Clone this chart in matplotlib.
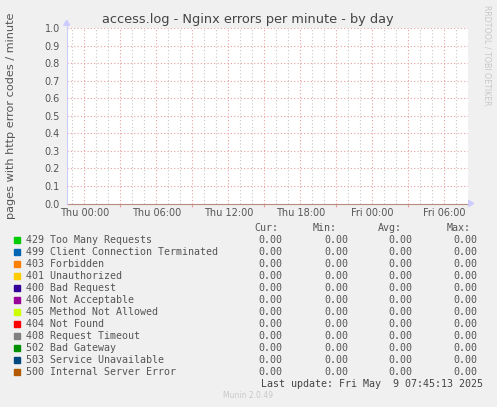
import matplotlib
matplotlib.use("Agg")
import matplotlib.pyplot as plt
from matplotlib.patches import Rectangle, Polygon
import numpy as np

W, H = 497, 407

series_names = ["429 Too Many Requests", "499 Client Connection Terminated",
                "403 Forbidden", "401 Unauthorized", "400 Bad Request",
                "406 Not Acceptable", "405 Method Not Allowed", "404 Not Found",
                "408 Request Timeout", "502 Bad Gateway", "503 Service Unavailable",
                "500 Internal Server Error"]
series_colors = ["#00CC00", "#0066B3", "#FF8000", "#FFCC00", "#330099", "#990099",
                 "#CCFF00", "#FF0000", "#808080", "#008F00", "#00487D", "#B35A00"]
series_values = [0.0] * 12   # every series flat at zero over the day
cur_vals = [0.0] * 12
min_vals = [0.0] * 12
avg_vals = [0.0] * 12
max_vals = [0.0] * 12

x_ticks_h = [0, 6, 12, 18, 24, 30]
x_tick_labels = ["Thu 00:00", "Thu 06:00", "Thu 12:00", "Thu 18:00", "Fri 00:00", "Fri 06:00"]
x_start_h, x_end_h = -1.47, 31.95
y_ticks = [0.0, 0.1, 0.2, 0.3, 0.4, 0.5, 0.6, 0.7, 0.8, 0.9, 1.0]

BG = "#F0F0F0"
fig = plt.figure(figsize=(W / 100, H / 100), dpi=100, facecolor=BG)

def fx(x):
    return x / W

def fy(y):
    return 1 - y / H

L, R, T, B = 66.7, 467.7, 28.3, 203.5
ax = fig.add_axes([fx(L), fy(B), (R - L) / W, (B - T) / H])
ax.set_facecolor("white")
ax.set_xlim(x_start_h, x_end_h)
ax.set_ylim(0, 1.0)
for s in ax.spines.values():
    s.set_visible(False)

# grid
hours = np.arange(-1, 32, 1)
for h in hours:
    major = (h % 3 == 0)
    ax.axvline(h, color="#E8A0A0" if major else "#C8C8C8", lw=0.8,
               ls=(0, (1, 2)), zorder=1)
for yv in y_ticks[1:]:
    ax.axhline(yv, color="#E8A0A0", lw=0.8, ls=(0, (1, 2)), zorder=1)

# series lines (all zero)
for v, c in zip(series_values, series_colors):
    ax.axhline(v, color=c, lw=0.6, alpha=0.6, zorder=3, clip_on=False)
ax.axhline(0, color="#B88A80", lw=0.8, zorder=4, clip_on=False)

ax.set_xticks(x_ticks_h)
ax.set_xticklabels(x_tick_labels)
ax.set_yticks(y_ticks)
ax.set_yticklabels([f"{v:.1f}" for v in y_ticks])
ax.tick_params(axis="both", length=0, labelsize=7, labelcolor="#555555", pad=3)
ax.tick_params(axis="y", pad=5)
ax.set_xticks([h for h in hours if h % 3 == 0], minor=True)
ax.tick_params(axis="x", which="minor", length=2.5, color="#E8A0A0", width=0.8)

# axes arrows and left axis
fig.lines.append(plt.Line2D([fx(L), fx(L)], [fy(B), fy(T - 4)], color="#CCCCFF", lw=0.8,
                            transform=fig.transFigure))
fig.patches.append(Polygon([[fx(L - 3), fy(T - 3)], [fx(L + 3), fy(T - 3)], [fx(L), fy(T - 8)]],
                           closed=True, color="#CCCCFF", transform=fig.transFigure))
fig.patches.append(Polygon([[fx(R + 1), fy(B - 3)], [fx(R + 1), fy(B + 3)], [fx(R + 6), fy(B)]],
                           closed=True, color="#CCCCFF", transform=fig.transFigure))

fig.text(fx(248), fy(19), "access.log - Nginx errors per minute - by day",
         ha="center", va="center", fontsize=9.3, color="#444444")
fig.text(fx(11), fy(115.5), "pages with http error codes / minute", rotation=90,
         ha="center", va="center", fontsize=8.1, color="#555555")
fig.text(fx(487), fy(5), "RRDTOOL / TOBI OETIKER", rotation=270,
         ha="center", va="top", fontsize=5.7, color="#C8C8C8")

MONO = "DejaVu Sans Mono"
FS = 7.2
TXT = "#555555"
hdr_x = [254, 313, 378, 447]
for x, t in zip(hdr_x, ["Cur:", "Min:", "Avg:", "Max:"]):
    fig.text(fx(x), fy(228.3), t, ha="left", va="center", family=MONO, fontsize=FS, color=TXT)

val_right = [282.3, 348, 412, 477]
for i, (name, col) in enumerate(zip(series_names, series_colors)):
    y = 240 + 12 * i
    fig.patches.append(Rectangle((fx(14), fy(y + 3)), 6 / W, 6 / H, color=col,
                                 transform=fig.transFigure))
    fig.text(fx(26), fy(y), name, ha="left", va="center", family=MONO, fontsize=FS, color=TXT)
    for xr, arr in zip(val_right, [cur_vals, min_vals, avg_vals, max_vals]):
        fig.text(fx(xr), fy(y), f"{arr[i]:.2f}", ha="right", va="center",
                 family=MONO, fontsize=FS, color=TXT)

fig.text(fx(483), fy(384), "Last update: Fri May  9 07:45:13 2025", ha="right", va="center",
         family=MONO, fontsize=FS, color="#444444")
fig.text(fx(248), fy(395), "Munin 2.0.49", ha="center", va="center", fontsize=5.5,
         color="#C8C8C8")

fig.savefig("out.png", dpi=100, facecolor=BG)
